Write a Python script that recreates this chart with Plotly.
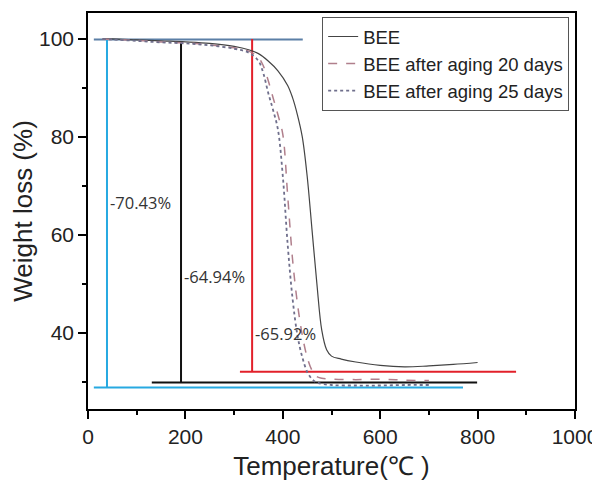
import plotly.graph_objects as go

# ---- data ----
bee_t = [30, 50, 100, 150, 200, 250, 300, 330, 350, 370, 390, 410, 420, 430, 440, 450, 460, 470, 480, 490, 500, 520, 550, 600, 650, 700, 750, 800]
bee_w = [100, 100, 99.8, 99.6, 99.4, 99.1, 98.5, 97.8, 97.0, 95.5, 93.5, 90.5, 88.0, 84.5, 80.0, 72.0, 61.0, 50.0, 40.5, 36.5, 35.2, 34.6, 34.0, 33.3, 33.0, 33.2, 33.5, 33.9]

d20_t = [30, 50, 100, 150, 200, 250, 300, 330, 350, 360, 370, 380, 390, 400, 410, 420, 430, 440, 450, 460, 470, 480, 500, 550, 600, 650, 700]
d20_w = [100, 99.9, 99.7, 99.4, 99.2, 98.8, 98.2, 97.5, 96.2, 94.5, 91.5, 88.0, 84.5, 80.5, 68.0, 55.0, 46.0, 39.5, 35.0, 32.3, 31.0, 30.7, 30.5, 30.4, 30.5, 30.3, 30.2]

d25_t = [30, 50, 100, 150, 200, 250, 300, 330, 350, 360, 370, 380, 390, 400, 410, 420, 430, 440, 450, 460, 470, 500, 550, 600, 650, 700]
d25_w = [100, 99.9, 99.6, 99.3, 99.1, 98.7, 98.0, 97.2, 95.5, 93.0, 89.0, 85.5, 81.5, 72.0, 58.0, 47.0, 39.5, 35.0, 32.0, 30.5, 29.8, 29.3, 29.2, 29.2, 29.3, 29.3]

series_names = ["BEE", "BEE after aging 20 days", "BEE after aging 25 days"]

# reference (mass-loss) guide lines
top_line_t = [12, 441]
top_line_w = [99.9, 99.9]
cyan_v_t = [39, 39]
cyan_v_w = [100, 28.8]
cyan_h_t = [12, 770]
cyan_h_w = [28.8, 28.8]
black_v_t = [191, 191]
black_v_w = [99.5, 29.8]
black_h_t = [131, 799]
black_h_w = [29.8, 29.8]
red_v_t = [337, 337]
red_v_w = [100, 32.0]
red_h_t = [312, 879]
red_h_w = [32.0, 32.0]

label_text = ["-70.43%", "-64.94%", "-65.92%"]
label_t = [41, 192, 339]
label_w = [66.5, 51.4, 39.8]

fig = go.Figure()

guide = dict(mode="lines", showlegend=False, hoverinfo="skip")
fig.add_trace(go.Scatter(x=top_line_t, y=top_line_w, line=dict(color="#5b7fa6", width=2), **guide))
fig.add_trace(go.Scatter(x=cyan_v_t, y=cyan_v_w, line=dict(color="#27a9e1", width=2), **guide))
fig.add_trace(go.Scatter(x=cyan_h_t, y=cyan_h_w, line=dict(color="#27a9e1", width=2), **guide))
fig.add_trace(go.Scatter(x=black_v_t, y=black_v_w, line=dict(color="#111111", width=2), **guide))
fig.add_trace(go.Scatter(x=black_h_t, y=black_h_w, line=dict(color="#111111", width=2), **guide))
fig.add_trace(go.Scatter(x=red_v_t, y=red_v_w, line=dict(color="#e2202a", width=2), **guide))
fig.add_trace(go.Scatter(x=red_h_t, y=red_h_w, line=dict(color="#e2202a", width=2), **guide))

fig.add_trace(go.Scatter(x=bee_t, y=bee_w, name=series_names[0], mode="lines",
                         line=dict(color="#444444", width=1.2, shape="spline")))
fig.add_trace(go.Scatter(x=d20_t, y=d20_w, name=series_names[1], mode="lines",
                         line=dict(color="#b07f8c", width=1.5, dash="dash", shape="spline")))
fig.add_trace(go.Scatter(x=d25_t, y=d25_w, name=series_names[2], mode="lines",
                         line=dict(color="#6f6f8c", width=1.8, dash="dot", shape="spline")))

for txt, tx, ty in zip(label_text, label_t, label_w):
    fig.add_annotation(x=tx, y=ty, text=txt, showarrow=False, xanchor="left", yanchor="middle",
                       font=dict(family="Open Sans, Arial", size=16.5, color="#333333"))

axis_common = dict(showline=True, linecolor="black", linewidth=1.5, mirror=True,
                   ticks="outside", ticklen=8, tickwidth=1.5, tickcolor="black",
                   showgrid=False, zeroline=False, automargin=False,
                   tickfont=dict(family="Liberation Sans, Arial", size=21, color="#222222"))

fig.update_xaxes(range=[0, 1000], dtick=200, tick0=0,
                 minor=dict(ticks="outside", ticklen=4, tickwidth=1.5, tickcolor="black", dtick=100, tick0=0),
                 title=dict(text="Temperature(℃ )", font=dict(family="Liberation Sans, Arial", size=26, color="#222222"), standoff=10),
                 **axis_common)
fig.update_yaxes(range=[24.4, 105.3], tickvals=[40, 60, 80, 100],
                 minor=dict(ticks="outside", ticklen=4, tickwidth=1.5, tickcolor="black", tickvals=[30, 50, 70, 90]),
                 title=dict(text="Weight loss (%)", font=dict(family="Liberation Sans, Arial", size=26, color="#222222"), standoff=6),
                 **axis_common)

fig.update_layout(
    width=592, height=473,
    margin=dict(l=80, r=25, t=5, b=72),
    plot_bgcolor="white", paper_bgcolor="white",
    legend=dict(x=0.988, y=0.99, xanchor="right", yanchor="top",
                bordercolor="#555555", borderwidth=1, bgcolor="white",
                font=dict(family="Liberation Sans, Arial", size=18.5, color="#222222"),
                tracegroupgap=0),
)

fig.write_html("out.html")
